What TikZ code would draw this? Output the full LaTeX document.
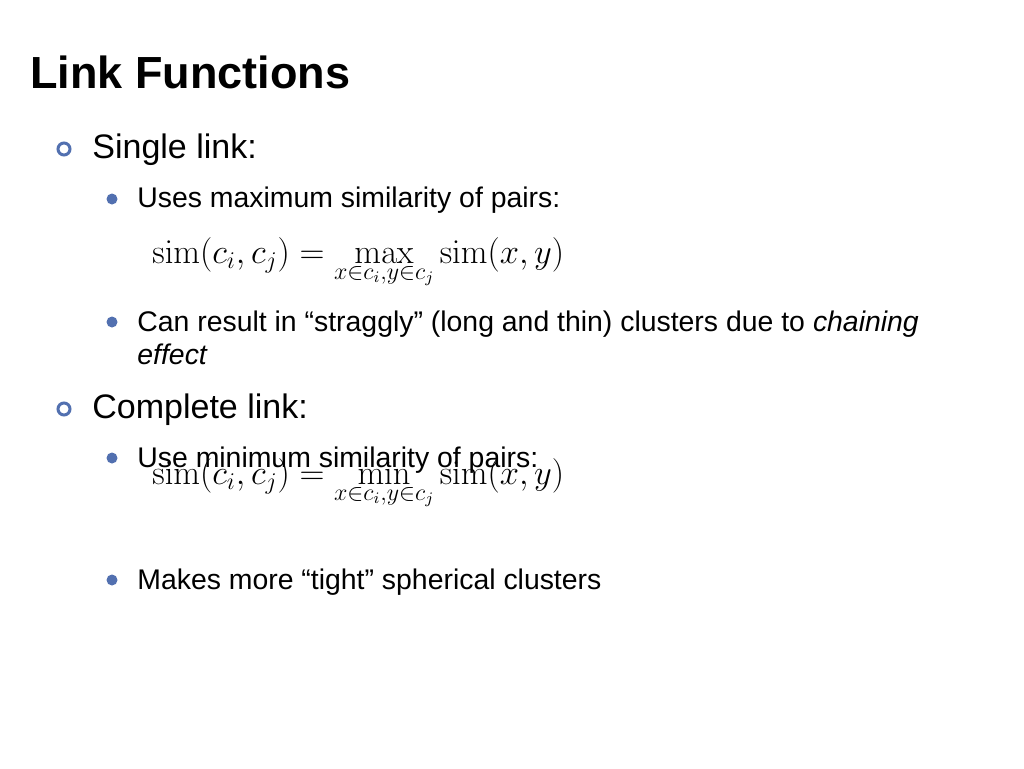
\documentclass[tikz,border=0pt]{standalone}
\usepackage[no-math]{fontspec}
\setmainfont{Liberation Sans}
\usetikzlibrary{positioning}
\definecolor{bulletblue}{RGB}{82,112,176}
\tikzset{
    % slide title
    title text/.style={anchor=base west, inner sep=0pt,
        font=\fontsize{22.5}{27}\selectfont\bfseries},
%
    % first and second level items
    item one/.style={anchor=base west, inner sep=0pt,
        font=\fontsize{17}{20}\selectfont},
    item two/.style={anchor=base west, inner sep=0pt, align=left,
        font=\fontsize{14.2}{16.5}\selectfont},
%
    % displayed formulas
    formula/.style={anchor=base west, inner sep=0pt,
        font=\fontsize{16.5}{20}\selectfont},
%
    % item markers
    ring mark/.style={circle, draw=bulletblue, line width=1.5pt,
        minimum size=6pt, inner sep=0pt},
    ball mark/.style={circle, fill=bulletblue,
        minimum size=5.5pt, inner sep=0pt}}

\begin{document}
\begin{tikzpicture}[x=0.5pt, y=-0.5pt]

\useasboundingbox[fill=white] (0,0) rectangle (1024,768);

\node (title) [title text] at (30,88) {Link Functions};

\node (single) [item one] at (92,158) {Single link:};
\node (usesmax) [item two] at (137,207) {Uses maximum similarity of pairs:};
\node (simmax) [formula] at (152,263)
    {$\displaystyle \mathrm{sim}(c_i,c_j)=\max_{x\in c_i,y\in c_j}\mathrm{sim}(x,y)$};
% base anchor of a two line node is on its last line
\node (straggly) [item two] at (137,364)
    {Can result in \textquotedblleft straggly\textquotedblright{} (long and thin) clusters due to \textit{chaining}\\\textit{effect}};

\node (complete) [item one] at (92,418) {Complete link:};
\node (usemin) [item two] at (137,467) {Use minimum similarity of pairs:};
\node (simmin) [formula] at (152,484)
    {$\displaystyle \mathrm{sim}(c_i,c_j)=\min_{x\in c_i,y\in c_j}\mathrm{sim}(x,y)$};
\node (tight) [item two] at (137,589)
    {Makes more \textquotedblleft tight\textquotedblright{} spherical clusters};

\foreach \y in {149,409}
    \node [ring mark] at (64,\y) {};
\foreach \y in {199,322,458,580}
    \node [ball mark] at (112,\y) {};

\end{tikzpicture}
\end{document}
